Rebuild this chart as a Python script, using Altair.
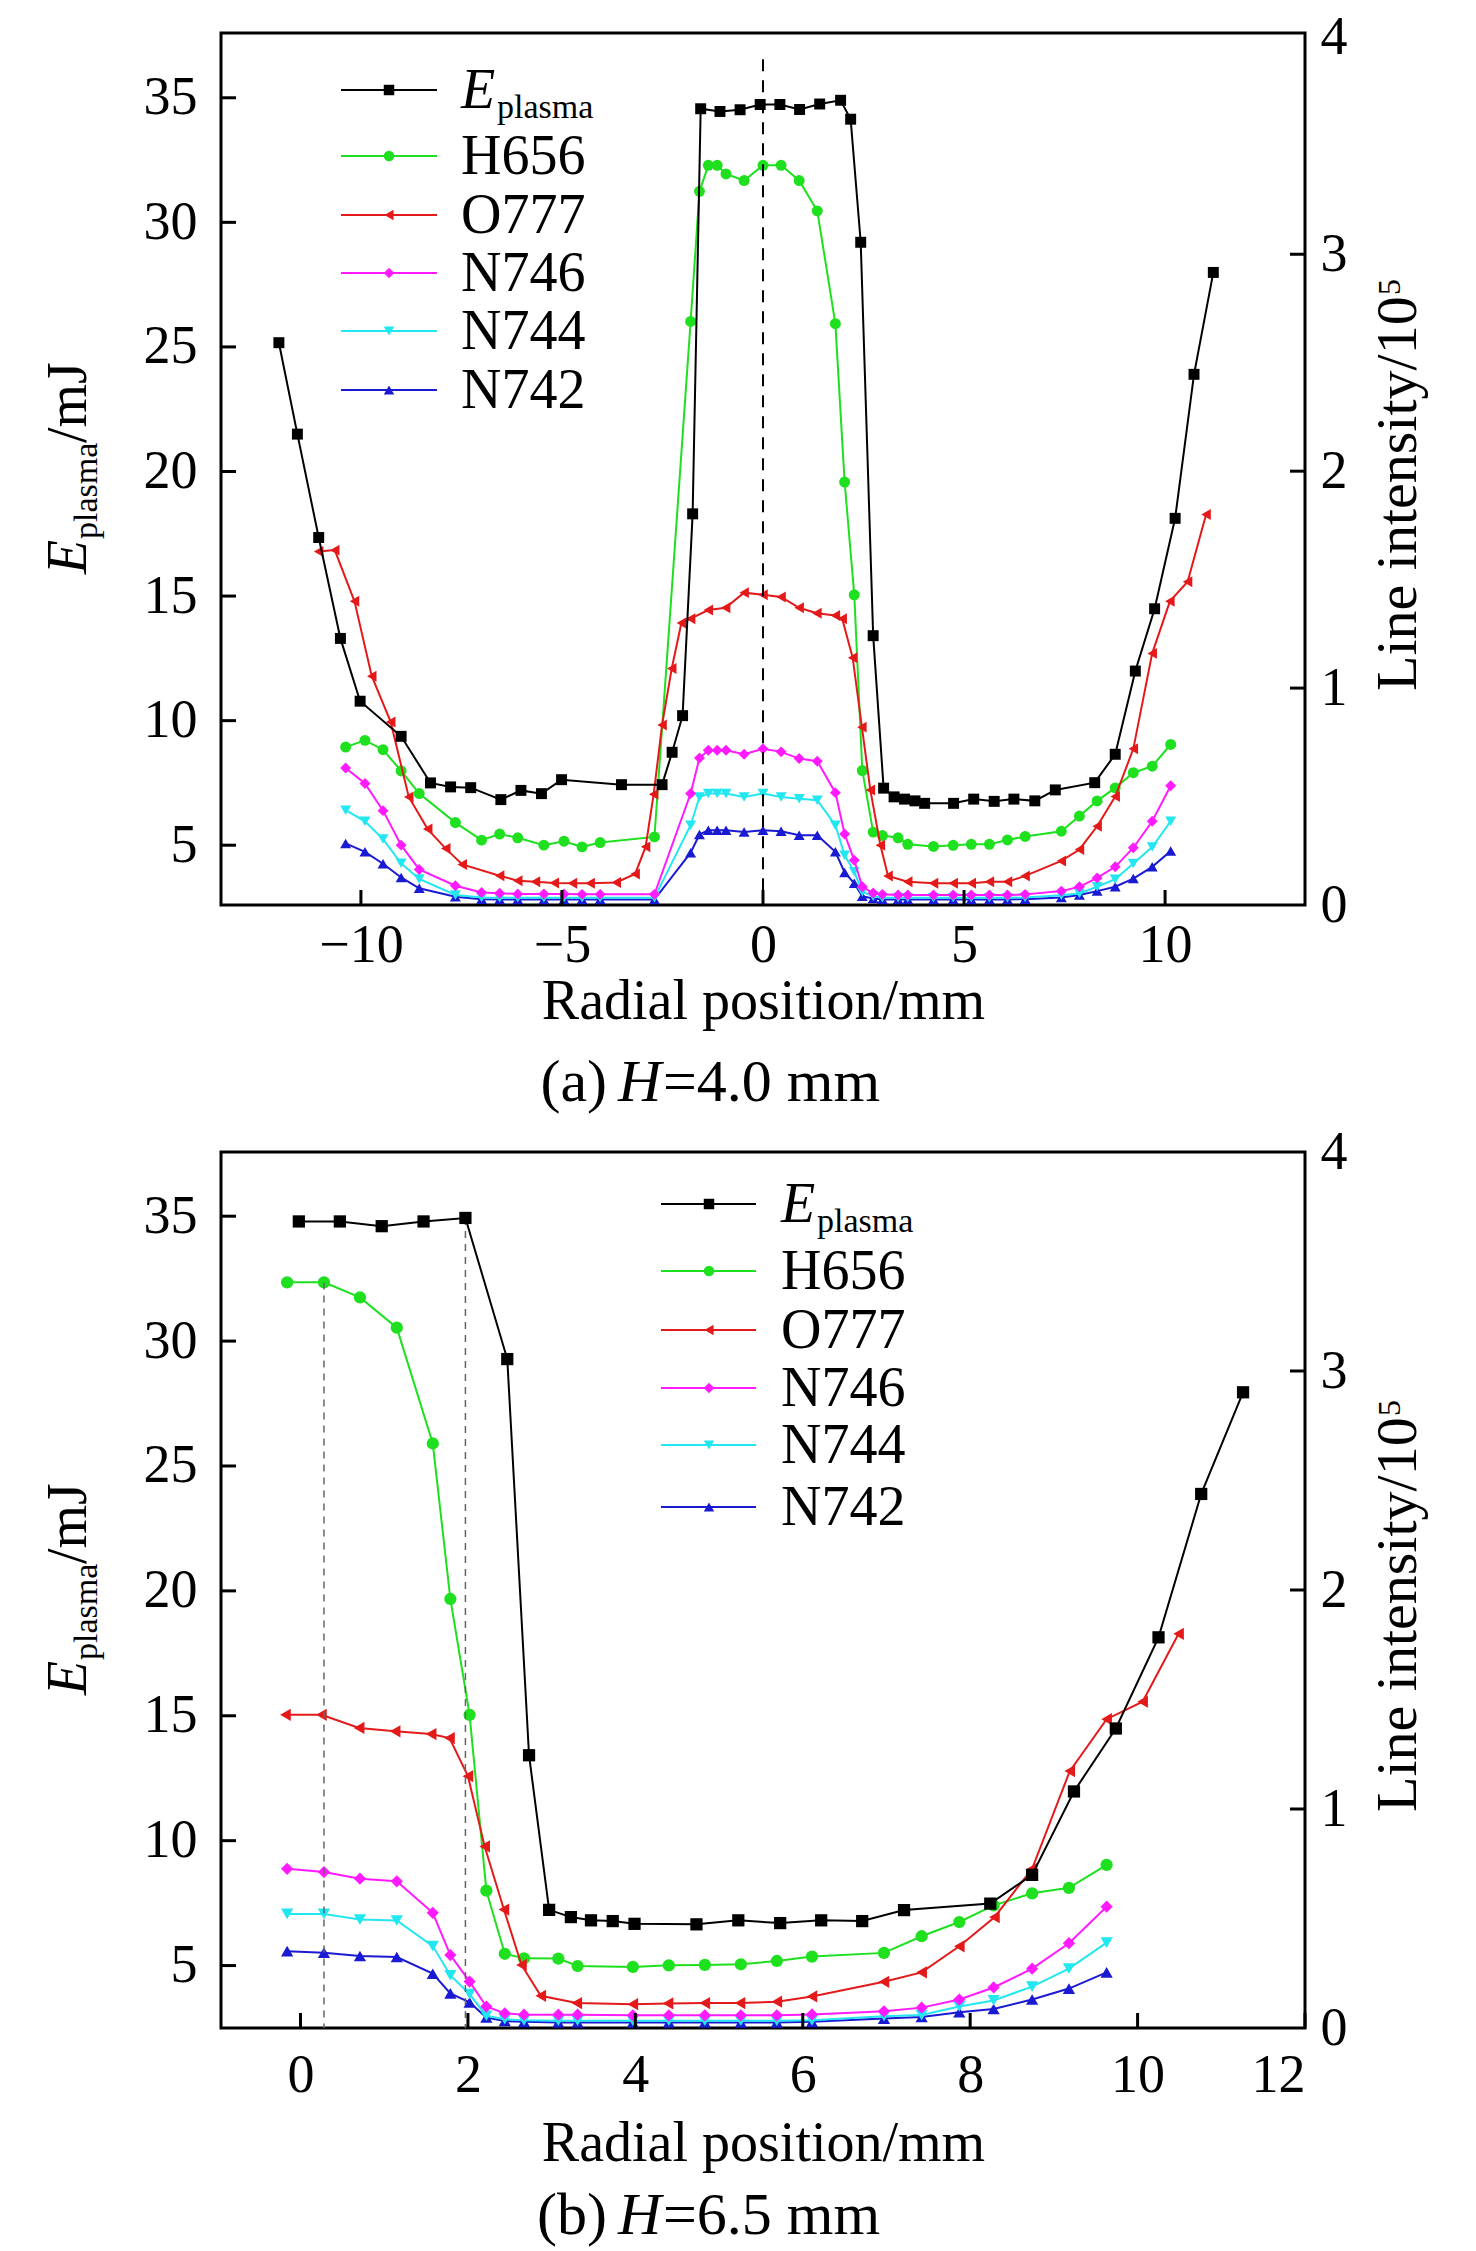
import altair as alt
import pandas as pd

FONT = "Liberation Serif"
TICK_FS = 54
TXT_FS = 56
CAP_FS = 60
RT_FS = 58
SUB_FS = 34

ORDER = ["E", "H656", "O777", "N746", "N744", "N742"]
LEGEND_LABELS = ["E", "H656", "O777", "N746", "N744", "N742"]
COL = {"E": "#000000", "H656": "#1ee01e", "O777": "#e41a1a",
       "N746": "#ff1aff", "N744": "#22e6f0", "N742": "#1a1ad2"}
SHAPE = {"E": "square", "H656": "circle", "O777": "triangle-left",
         "N746": "diamond", "N744": "triangle-down", "N742": "triangle-up"}

# ---------------- panel (a) H = 4.0 mm ----------------
a_E_x = [-12.04, -11.58, -11.05, -10.51, -10.02, -9.0, -8.27, -7.77, -7.27, -6.52,
         -6.02, -5.51, -5.01, -3.52, -2.51, -2.26, -2.0, -1.75, -1.55, -1.07,
         -0.57, -0.07, 0.42, 0.91, 1.41, 1.93, 2.18, 2.43, 2.74, 3.0,
         3.26, 3.52, 3.78, 4.02, 4.74, 5.24, 5.75, 6.24, 6.76, 7.27,
         8.25, 8.76, 9.26, 9.74, 10.25, 10.72, 11.2]
a_E = [25.17, 21.5, 17.35, 13.3, 10.78, 9.37, 7.5, 7.34, 7.31, 6.83,
       7.2, 7.07, 7.63, 7.43, 7.43, 8.73, 10.2, 18.3, 34.56, 34.45,
       34.52, 34.73, 34.73, 34.53, 34.75, 34.9, 34.14, 29.2, 13.41, 7.29,
       6.94, 6.85, 6.78, 6.68, 6.68, 6.85, 6.76, 6.85, 6.78, 7.22,
       7.51, 8.65, 11.99, 14.49, 18.12, 23.9, 27.99]

a_L_x = [-10.38, -9.9, -9.45, -9.0, -8.55, -7.65, -7.0, -6.55, -6.1, -5.45,
         -4.95, -4.5, -4.05, -2.7, -1.8, -1.58, -1.36, -1.14, -0.92, -0.47,
         0.0, 0.45, 0.9, 1.35, 1.8, 2.03, 2.27, 2.47, 2.74, 2.97,
         3.36, 3.6, 4.24, 4.73, 5.18, 5.63, 6.08, 6.52, 7.42, 7.87,
         8.31, 8.76, 9.21, 9.68, 10.14]
a_H656 = [0.728, 0.759, 0.716, 0.618, 0.514, 0.38, 0.299, 0.327, 0.31, 0.276,
          0.294, 0.268, 0.288, 0.314, 2.69, 3.29, 3.41, 3.41, 3.37, 3.34,
          3.41, 3.41, 3.34, 3.20, 2.68, 1.95, 1.43, 0.62, 0.336, 0.32,
          0.31, 0.28, 0.27, 0.275, 0.28, 0.28, 0.30, 0.316, 0.34, 0.41,
          0.48, 0.54, 0.61, 0.64, 0.74]
a_N746 = [0.632, 0.56, 0.435, 0.276, 0.164, 0.089, 0.058, 0.054, 0.051, 0.051,
          0.051, 0.049, 0.049, 0.049, 0.514, 0.678, 0.713, 0.713, 0.713, 0.695,
          0.72, 0.706, 0.675, 0.663, 0.518, 0.327, 0.206, 0.084, 0.055, 0.049,
          0.046, 0.046, 0.046, 0.046, 0.046, 0.046, 0.046, 0.049, 0.064, 0.084,
          0.125, 0.176, 0.264, 0.386, 0.55]
a_N744 = [0.437, 0.386, 0.304, 0.192, 0.12, 0.046, 0.035, 0.033, 0.033, 0.033,
          0.033, 0.033, 0.033, 0.033, 0.368, 0.498, 0.514, 0.514, 0.514, 0.498,
          0.514, 0.498, 0.49, 0.483, 0.368, 0.229, 0.153, 0.061, 0.04, 0.033,
          0.033, 0.033, 0.033, 0.033, 0.033, 0.033, 0.033, 0.035, 0.045, 0.053,
          0.084, 0.119, 0.191, 0.267, 0.386]
a_N742 = [0.284, 0.245, 0.19, 0.127, 0.077, 0.038, 0.027, 0.025, 0.025, 0.025,
          0.025, 0.025, 0.025, 0.025, 0.241, 0.325, 0.345, 0.345, 0.345, 0.337,
          0.345, 0.34, 0.322, 0.322, 0.245, 0.15, 0.1, 0.04, 0.03, 0.025,
          0.025, 0.025, 0.025, 0.025, 0.025, 0.025, 0.025, 0.027, 0.035, 0.046,
          0.064, 0.084, 0.122, 0.176, 0.249]
a_O_x = [-11.05, -10.65, -10.16, -9.73, -9.26, -8.81, -8.34, -7.89, -7.48, -6.55,
         -6.1, -5.66, -5.19, -4.74, -4.3, -3.65, -3.18, -2.92, -2.72, -2.51,
         -2.27, -2.03, -1.8, -1.36, -0.93, -0.47, 0.0, 0.45, 0.9, 1.34,
         1.8, 1.97, 2.23, 2.46, 2.67, 2.92, 3.11, 3.6, 4.24, 4.73,
         5.18, 5.63, 6.08, 6.52, 7.42, 7.87, 8.31, 8.76, 9.21, 9.68,
         10.12, 10.56, 11.02]
a_O777 = [1.63, 1.636, 1.40, 1.055, 0.844, 0.498, 0.35, 0.26, 0.187, 0.135,
          0.112, 0.107, 0.101, 0.10, 0.10, 0.104, 0.143, 0.268, 0.51, 0.83,
          1.09, 1.30, 1.32, 1.36, 1.37, 1.44, 1.43, 1.42, 1.37, 1.345,
          1.335, 1.32, 1.14, 0.82, 0.53, 0.275, 0.134, 0.107, 0.10, 0.10,
          0.10, 0.107, 0.107, 0.134, 0.203, 0.256, 0.363, 0.50, 0.72, 1.16,
          1.40, 1.49, 1.80]
a_vline_x = [0.0]
a_vline_top = [36.55]

# ---------------- panel (b) H = 6.5 mm ----------------
b_E_x = [-0.02, 0.47, 0.97, 1.47, 1.97, 2.47, 2.73, 2.97, 3.23, 3.47,
         3.73, 3.99, 4.73, 5.23, 5.73, 6.22, 6.71, 7.21, 8.24, 8.74,
         9.24, 9.74, 10.25, 10.76, 11.26]
b_E = [34.79, 34.79, 34.6, 34.79, 34.93, 29.28, 13.42, 7.23, 6.94, 6.81,
       6.78, 6.67, 6.65, 6.81, 6.70, 6.81, 6.78, 7.22, 7.48, 8.63,
       11.97, 14.49, 18.14, 23.88, 27.95]
b_L_x = [-0.16, 0.28, 0.71, 1.15, 1.58, 1.79, 2.02, 2.22, 2.44, 2.67,
         3.08, 3.31, 3.97, 4.40, 4.83, 5.26, 5.69, 6.11, 6.97, 7.42,
         7.87, 8.28, 8.74, 9.18, 9.63]
b_H656 = [3.405, 3.405, 3.336, 3.198, 2.669, 1.959, 1.43, 0.627, 0.339, 0.318,
          0.317, 0.283, 0.279, 0.286, 0.288, 0.291, 0.306, 0.326, 0.343, 0.419,
          0.484, 0.56, 0.615, 0.64, 0.745]
b_N746 = [0.727, 0.712, 0.682, 0.67, 0.526, 0.333, 0.212, 0.098, 0.067, 0.061,
          0.061, 0.061, 0.058, 0.058, 0.058, 0.058, 0.058, 0.062, 0.076, 0.093,
          0.13, 0.185, 0.271, 0.387, 0.554]
b_N744 = [0.521, 0.521, 0.495, 0.491, 0.374, 0.241, 0.155, 0.056, 0.04, 0.035,
          0.033, 0.033, 0.033, 0.033, 0.033, 0.033, 0.033, 0.035, 0.054, 0.059,
          0.098, 0.126, 0.189, 0.271, 0.39]
b_N742 = [0.351, 0.344, 0.329, 0.324, 0.248, 0.158, 0.117, 0.048, 0.032, 0.028,
          0.025, 0.025, 0.025, 0.025, 0.025, 0.025, 0.025, 0.028, 0.043, 0.05,
          0.072, 0.087, 0.13, 0.18, 0.254]
b_O_x = [-0.18, 0.25, 0.70, 1.13, 1.56, 1.78, 2.0, 2.2, 2.43, 2.64,
         2.87, 3.30, 3.97, 4.39, 4.83, 5.25, 5.69, 6.11, 6.97, 7.42,
         7.87, 8.29, 8.74, 9.19, 9.63, 10.06, 10.49]
b_O777 = [1.43, 1.43, 1.37, 1.355, 1.342, 1.324, 1.15, 0.829, 0.541, 0.288,
          0.147, 0.114, 0.109, 0.112, 0.114, 0.114, 0.12, 0.144, 0.211, 0.254,
          0.373, 0.506, 0.727, 1.173, 1.41, 1.49, 1.80]
b_vline_x = [0.28, 1.97]
b_vline_top = [32.35, 34.93]

# tick values
LEFT_TICKS = [5, 10, 15, 20, 25, 30, 35]
RIGHT_TICKS = [0, 1, 2, 3, 4]
RIGHT_INNER_TICKS = [1, 2, 3]
A_X_TICKS = [-10, -5, 0, 5, 10]
B_X_TICKS = [0, 2, 4, 6, 8, 10, 12]

ONE = pd.DataFrame({"k": [0]})


def txt(s, x, y, size=TXT_FS, align="left", style="normal", angle=0):
    kw = dict(text=s, font=FONT, fontSize=size, align=align, baseline="alphabetic",
              fontStyle=style, color="black")
    if angle:
        kw["angle"] = angle
    return alt.Chart(ONE).mark_text(**kw).encode(x=alt.value(x), y=alt.value(y))


def panel(W, H, xdom, xvals, ydomL, ydomR, E_x, E_y, L_x, series, O_x, O_y,
          vl_x, vl_top, vl_color, vl_dash, vl_width, leg, cap_letter, cap_val,
          lab_pad, title_pad, cap_y, msz):
    xs = alt.Scale(domain=xdom, nice=False, zero=False)
    ysL = alt.Scale(domain=ydomL, nice=False, zero=False)
    ysR = alt.Scale(domain=ydomR, nice=False, zero=False)
    xaxis = alt.Axis(values=xvals, format="d", title="Radial position/mm",
                     labelPadding=lab_pad, titlePadding=title_pad, ticks=False, tickSize=0,
                     domain=False, grid=False, labelFont=FONT, labelFontSize=TICK_FS,
                     titleFont=FONT, titleFontSize=TXT_FS, titleFontWeight="normal",
                     labelColor="black", titleColor="black")
    axL = alt.Axis(values=LEFT_TICKS, format="d", orient="left", title=None,
                   labelPadding=24, ticks=False, tickSize=0, domain=False, grid=False,
                   labelFont=FONT, labelFontSize=TICK_FS, labelColor="black")
    axR = alt.Axis(values=RIGHT_TICKS, format="d", orient="right", title=None,
                   labelPadding=15, ticks=False, tickSize=0, domain=False, grid=False,
                   labelFont=FONT, labelFontSize=TICK_FS, labelColor="black")

    def X(f="x"):
        return alt.X(f"{f}:Q", scale=xs, axis=xaxis)

    def YL(f):
        return alt.Y(f"{f}:Q", scale=ysL, axis=axL)

    def YR(f):
        return alt.Y(f"{f}:Q", scale=ysR, axis=axR)

    # right-axis group (line intensities)
    rlayers = []
    draw = [("N742", L_x, series["N742"]), ("N744", L_x, series["N744"]),
            ("N746", L_x, series["N746"]), ("H656", L_x, series["H656"]),
            ("O777", O_x, O_y)]
    for name, xx, yy in draw:
        d = pd.DataFrame({"x": xx, "r": yy})
        rlayers.append(alt.Chart(d).mark_line(color=COL[name], strokeWidth=2)
                       .encode(x=X(), y=YR("r")))
        rlayers.append(alt.Chart(d).mark_point(shape=SHAPE[name], filled=True, size=msz,
                                               color=COL[name], opacity=1)
                       .encode(x=X(), y=YR("r")))
    rlayers.append(alt.Chart(pd.DataFrame({"v": RIGHT_INNER_TICKS}))
                   .mark_rule(color="black", strokeWidth=3)
                   .encode(y=YR("v"), x=alt.value(W - 15), x2=alt.value(W)))
    right = alt.layer(*rlayers)

    # left-axis group (E_plasma)
    dE = pd.DataFrame({"x": E_x, "E": E_y})
    llayers = [
        alt.Chart(pd.DataFrame({"x": vl_x, "top": vl_top}))
        .mark_rule(color=vl_color, strokeDash=vl_dash, strokeWidth=vl_width)
        .encode(x=X(), y=YL("top"), y2=alt.value(H)),
        alt.Chart(dE).mark_line(color=COL["E"], strokeWidth=2).encode(x=X(), y=YL("E")),
        alt.Chart(dE).mark_point(shape="square", filled=True, size=msz, color=COL["E"],
                                 opacity=1).encode(x=X(), y=YL("E")),
        alt.Chart(pd.DataFrame({"v": LEFT_TICKS})).mark_rule(color="black", strokeWidth=3)
        .encode(y=YL("v"), x=alt.value(0), x2=alt.value(15)),
        alt.Chart(pd.DataFrame({"v": xvals})).mark_rule(color="black", strokeWidth=3)
        .encode(x=X("v"), y=alt.value(H - 15), y2=alt.value(H)),
    ]
    left = alt.layer(*llayers)

    # overlays: legend, axis titles, caption
    x0, x1, xm, xt, rows = leg
    ov = []
    for name, lab, y in zip(ORDER, LEGEND_LABELS, rows):
        ov.append(alt.Chart(ONE).mark_rule(color=COL[name], strokeWidth=2)
                  .encode(x=alt.value(x0), x2=alt.value(x1), y=alt.value(y)))
        ov.append(alt.Chart(ONE).mark_point(shape=SHAPE[name], filled=True, size=110,
                                            color=COL[name], opacity=1)
                  .encode(x=alt.value(xm), y=alt.value(y)))
        if name == "E":
            ov.append(txt("E", xt, y + 18, style="italic"))
            ov.append(txt("plasma", xt + 36, y + 28, size=SUB_FS))
        else:
            ov.append(txt(lab, xt, y + 18))
    hc = H / 2
    # left axis title  E_plasma/mJ
    ov.append(txt("E", -135, hc + 105, style="italic", angle=270))
    ov.append(txt("plasma", -124, hc + 105 - 35, size=SUB_FS, angle=270))
    ov.append(txt("/mJ", -135, hc + 105 - 35 - 96, angle=270))
    # right axis title  Line intensity/10^5 (superscript shifted toward the glyph tops)
    ov.append(txt("Line intensity/10", W + 111, hc + 222, size=RT_FS, angle=270))
    ov.append(txt("5", W + 95, hc + 222 - 396, size=32, angle=270))
    # caption
    ov.append(txt(cap_letter, 386, cap_y + 20, size=CAP_FS, align="right"))
    ov.append(txt("H", 397, cap_y + 20, size=CAP_FS, style="italic"))
    ov.append(txt(cap_val, 442, cap_y + 20, size=CAP_FS))
    over = alt.layer(*ov)

    return (alt.layer(right, left, over)
            .resolve_scale(y="independent")
            .properties(width=W, height=H))


W = 1084
HA = 872
HB = 876

pa = panel(W, HA, [-13.48, 13.48], A_X_TICKS, [2.6, 37.6], [0, 4.02],
           a_E_x, a_E, a_L_x,
           {"H656": a_H656, "N746": a_N746, "N744": a_N744, "N742": a_N742},
           a_O_x, a_O777, a_vline_x, a_vline_top, "#000000", [12, 9], 2,
           (120, 216, 168, 240, [57, 123, 182, 240, 298, 357]),
           "(a)", "=4.0 mm", 13, 2, HA + 176, 120)

pb = panel(W, HB, [-0.95, 12.0], B_X_TICKS, [2.5, 37.57], [0, 4.0],
           b_E_x, b_E, b_L_x,
           {"H656": b_H656, "N746": b_N746, "N744": b_N744, "N742": b_N742},
           b_O_x, b_O777, b_vline_x, b_vline_top, "#666666", [7, 6], 1.5,
           (440, 535, 488, 560, [52, 119, 178, 236, 293, 355]),
           "(b)", "=6.5 mm", 20, 14, HB + 186, 150)

chart = (alt.vconcat(pa, pb, spacing=8)
         .properties(padding={"left": 31, "top": 0, "right": 5, "bottom": 0})
         .configure_view(stroke="black", strokeWidth=3))

chart.save("out.html", embed_options={"renderer": "svg", "actions": False})
